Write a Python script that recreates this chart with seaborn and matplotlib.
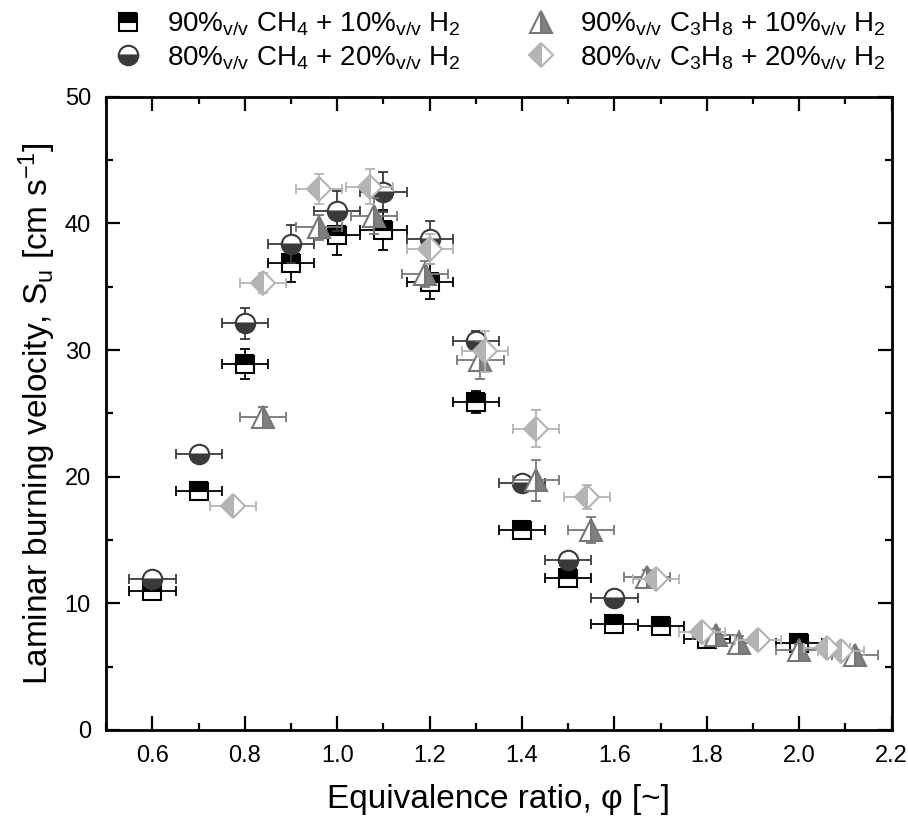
import matplotlib
matplotlib.use("Agg")
import matplotlib.pyplot as plt
from matplotlib.ticker import MultipleLocator, FormatStrFormatter
import seaborn as sns

# ---- data ----
phi_ch4_10 = [0.6, 0.7, 0.8, 0.9, 1.0, 1.1, 1.2, 1.3, 1.4, 1.5, 1.6, 1.7, 1.8, 2.0]
su_ch4_10 = [11.0, 18.9, 28.9, 36.9, 39.1, 39.5, 35.4, 25.9, 15.8, 12.0, 8.4, 8.2, 7.2, 6.9]
err_ch4_10 = [0.3, 0.5, 1.2, 1.5, 1.6, 1.6, 1.4, 0.9, 0.4, 0.4, 0.3, 0.3, 0.4, 0.3]

phi_ch4_20 = [0.6, 0.7, 0.8, 0.9, 1.0, 1.1, 1.2, 1.3, 1.4, 1.5, 1.6]
su_ch4_20 = [11.9, 21.8, 32.1, 38.4, 41.0, 42.5, 38.8, 30.7, 19.5, 13.4, 10.4]
err_ch4_20 = [0.3, 0.5, 1.2, 1.5, 1.6, 1.6, 1.4, 0.8, 0.4, 0.4, 0.3]

phi_c3h8_10 = [0.84, 0.96, 1.08, 1.19, 1.31, 1.43, 1.55, 1.67, 1.82, 1.87, 2.0, 2.12]
su_c3h8_10 = [24.7, 39.7, 40.6, 36.0, 29.2, 19.7, 15.8, 12.1, 7.5, 6.9, 6.3, 5.9]
err_c3h8_10 = [0.8, 1.0, 1.4, 1.0, 1.5, 1.6, 1.0, 0.5, 0.5, 0.5, 0.5, 0.4]

phi_c3h8_20 = [0.775, 0.84, 0.96, 1.07, 1.2, 1.32, 1.43, 1.54, 1.69, 1.79, 1.91, 2.06, 2.09]
su_c3h8_20 = [17.7, 35.3, 42.7, 42.9, 38.0, 29.9, 23.8, 18.4, 11.9, 7.7, 7.1, 6.5, 6.2]
err_c3h8_20 = [0.3, 0.8, 1.2, 1.4, 1.2, 1.6, 1.45, 0.95, 0.4, 0.3, 0.3, 0.3, 0.3]

phi_err = 0.05

labels = [
    "90%$_{v/v}$ CH$_4$ + 10%$_{v/v}$ H$_2$",
    "80%$_{v/v}$ CH$_4$ + 20%$_{v/v}$ H$_2$",
    "90%$_{v/v}$ C$_3$H$_8$ + 10%$_{v/v}$ H$_2$",
    "80%$_{v/v}$ C$_3$H$_8$ + 20%$_{v/v}$ H$_2$",
]

# ---- style ----
sns.set_style("ticks")
plt.rcParams['font.family'] = ['Liberation Sans', 'DejaVu Sans']
plt.rcParams['mathtext.default'] = 'regular'
for k in ['text.color', 'axes.labelcolor', 'xtick.color', 'ytick.color', 'axes.edgecolor']:
    plt.rcParams[k] = 'black'

fig = plt.figure(figsize=(9.08, 8.21), dpi=100)
ax = fig.add_axes([0.117, 0.111, 0.865, 0.771])

series = [
    (phi_ch4_10, su_ch4_10, err_ch4_10, 's', '#000000', '#000000', 'top', 12.5),
    (phi_ch4_20, su_ch4_20, err_ch4_20, 'o', '#3a3a3a', '#3a3a3a', 'bottom', 14),
    (phi_c3h8_10, su_c3h8_10, err_c3h8_10, '^', '#808080', '#777777', 'right', 16),
    (phi_c3h8_20, su_c3h8_20, err_c3h8_20, 'D', '#b4b4b4', '#b4b4b4', 'left', 12.5),
]

handles = []
for i, (xs, ys, es, mk, col, ecol, fs, ms) in enumerate(series):
    ax.errorbar(xs, ys, xerr=phi_err, yerr=es, fmt='none', ecolor=ecol,
                elinewidth=1.3, capsize=3.8, capthick=1.3, zorder=2 + 2 * i)
    sns.lineplot(x=xs, y=ys, ax=ax, estimator=None, sort=False,
                 linestyle='', marker=mk, markersize=ms, fillstyle=fs,
                 color=col, markerfacecolor=col, markerfacecoloralt='white',
                 markeredgecolor=ecol, markeredgewidth=1.5, zorder=3 + 2 * i)
    handles.append(ax.lines[-1])

ax.set_xlim(0.5, 2.2)
ax.set_ylim(0, 50)
ax.xaxis.set_major_locator(MultipleLocator(0.2))
ax.xaxis.set_minor_locator(MultipleLocator(0.1))
ax.yaxis.set_major_locator(MultipleLocator(10))
ax.yaxis.set_minor_locator(MultipleLocator(5))
ax.xaxis.set_major_formatter(FormatStrFormatter('%.1f'))

ax.tick_params(which='both', direction='in', top=True, right=True,
               labelsize=17, width=1.6, colors='black')
ax.tick_params(which='major', length=10, pad=11)
ax.tick_params(which='minor', length=5)
for sp in ax.spines.values():
    sp.set_linewidth(2.0)
    sp.set_color('black')
    sp.set_visible(True)

ax.set_xlabel("Equivalence ratio, φ [~]", fontsize=24, labelpad=12)
ax.set_ylabel("Laminar burning velocity, S$_u$ [cm s$^{-1}$]", fontsize=24, labelpad=5)

fig.legend(handles, labels, ncol=2, loc='upper left',
           bbox_to_anchor=(114 / 908, 1.0 - 11 / 821), borderaxespad=0, borderpad=0,
           frameon=False, fontsize=20, handlelength=1.0, handletextpad=0.9,
           columnspacing=2.4, labelspacing=0.2)

fig.savefig("out.png", dpi=100)
